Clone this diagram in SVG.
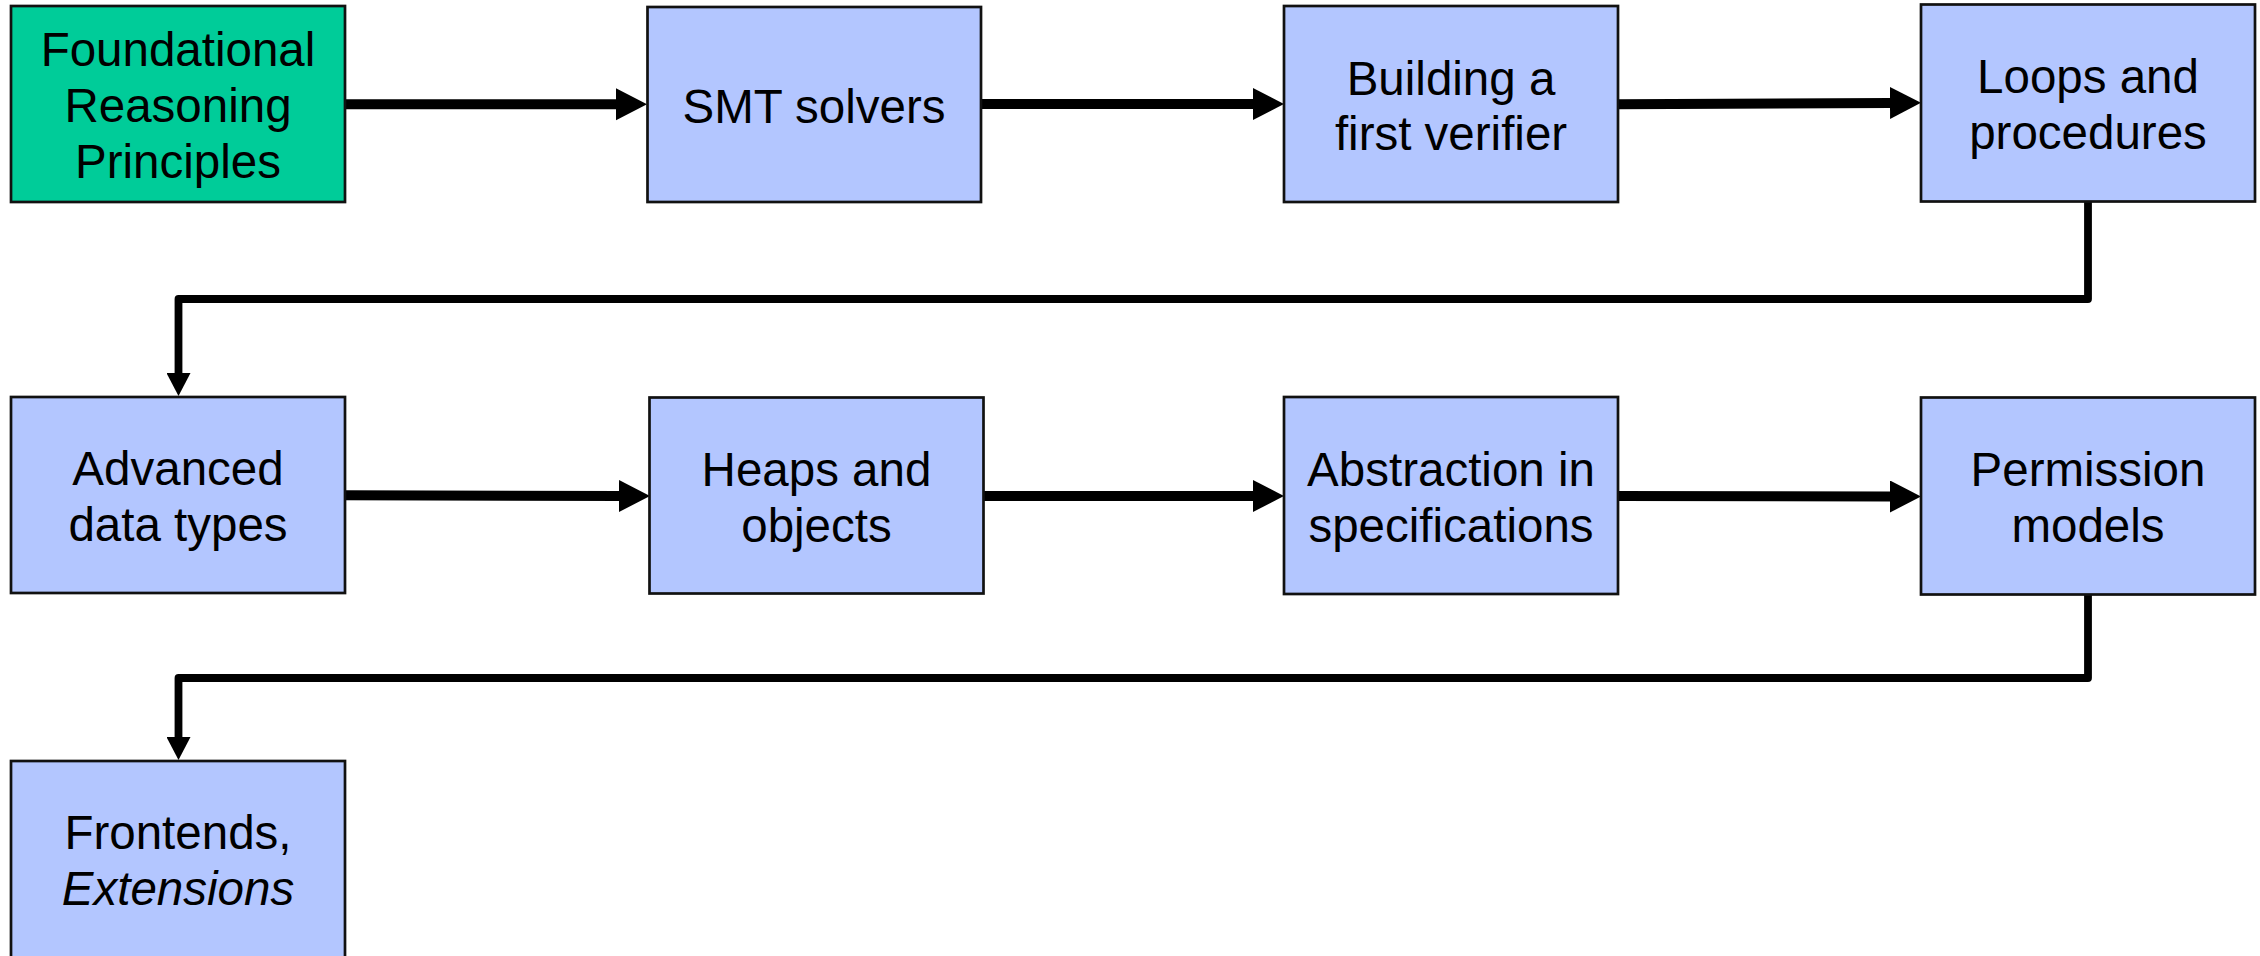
<svg xmlns="http://www.w3.org/2000/svg" width="2260" height="956" viewBox="0 0 2260 956">
  <style>
    .box { fill: #b3c6ff; stroke: #111111; stroke-width: 2.7; }
    .start { fill: #00cc99; stroke: #111111; stroke-width: 2.7; }
    .lbl { font-family: "Liberation Sans", Arial, sans-serif; font-size: 47.5px; fill: #000000; text-anchor: middle; }
    .it { font-style: italic; }
    .straight { fill: none; stroke: #000000; stroke-width: 10; }
    .bent { fill: none; stroke: #000000; stroke-width: 7.8; stroke-linejoin: round; }
  </style>
  <defs>
    <marker id="bigHead" markerUnits="userSpaceOnUse" markerWidth="32" markerHeight="33" refX="0" refY="16" orient="auto">
      <polygon points="0,0 31,16 0,32" fill="#000000"/>
    </marker>
    <marker id="smallHead" markerUnits="userSpaceOnUse" markerWidth="25" markerHeight="24" refX="0" refY="12" orient="auto">
      <polygon points="0,0 23,12 0,24" fill="#000000"/>
    </marker>
  </defs>
  <rect width="2260" height="956" fill="#ffffff"/>

  <g id="connectors">
    <path class="straight" d="M345,104.3 H616" marker-end="url(#bigHead)"/>
    <path class="straight" d="M981,104 H1253" marker-end="url(#bigHead)"/>
    <path class="straight" d="M1618,104.3 L1890,103" marker-end="url(#bigHead)"/>
    <path class="bent" d="M2088,202 V299 H178.5 V373" marker-end="url(#smallHead)"/>
    <path class="straight" d="M345,495.3 L619,496" marker-end="url(#bigHead)"/>
    <path class="straight" d="M983,496 H1253" marker-end="url(#bigHead)"/>
    <path class="straight" d="M1618,496 L1890,496.5" marker-end="url(#bigHead)"/>
    <path class="bent" d="M2088,595 V678 H178.5 V737" marker-end="url(#smallHead)"/>
  </g>

  <g id="n1">
    <rect class="start" x="11" y="6" width="334" height="196"/>
    <text class="lbl" x="178" y="66">Foundational</text>
    <text class="lbl" x="178" y="122">Reasoning</text>
    <text class="lbl" x="178" y="178">Principles</text>
  </g>
  <g id="n2">
    <rect class="box" x="647.5" y="7" width="333.5" height="195"/>
    <text class="lbl" x="814" y="122.5">SMT solvers</text>
  </g>
  <g id="n3">
    <rect class="box" x="1284" y="6" width="334" height="196"/>
    <text class="lbl" x="1451" y="94.5">Building a</text>
    <text class="lbl" x="1451" y="150">first verifier</text>
  </g>
  <g id="n4">
    <rect class="box" x="1921" y="4.5" width="334" height="197"/>
    <text class="lbl" x="2088" y="93">Loops and</text>
    <text class="lbl" x="2088" y="148.5">procedures</text>
  </g>
  <g id="n5">
    <rect class="box" x="11" y="397" width="334" height="196"/>
    <text class="lbl" x="178" y="485">Advanced</text>
    <text class="lbl" x="178" y="540.5">data types</text>
  </g>
  <g id="n6">
    <rect class="box" x="649.5" y="397.5" width="334" height="196"/>
    <text class="lbl" x="816.5" y="486">Heaps and</text>
    <text class="lbl" x="816.5" y="542">objects</text>
  </g>
  <g id="n7">
    <rect class="box" x="1284" y="397" width="334" height="197"/>
    <text class="lbl" x="1451" y="486">Abstraction in</text>
    <text class="lbl" x="1451" y="542">specifications</text>
  </g>
  <g id="n8">
    <rect class="box" x="1921" y="397.5" width="334" height="197"/>
    <text class="lbl" x="2088" y="486">Permission</text>
    <text class="lbl" x="2088" y="542">models</text>
  </g>
  <g id="n9">
    <rect class="box" x="11" y="761" width="334" height="200"/>
    <text class="lbl" x="178" y="849">Frontends,</text>
    <text class="lbl it" x="178" y="905">Extensions</text>
  </g>
</svg>
